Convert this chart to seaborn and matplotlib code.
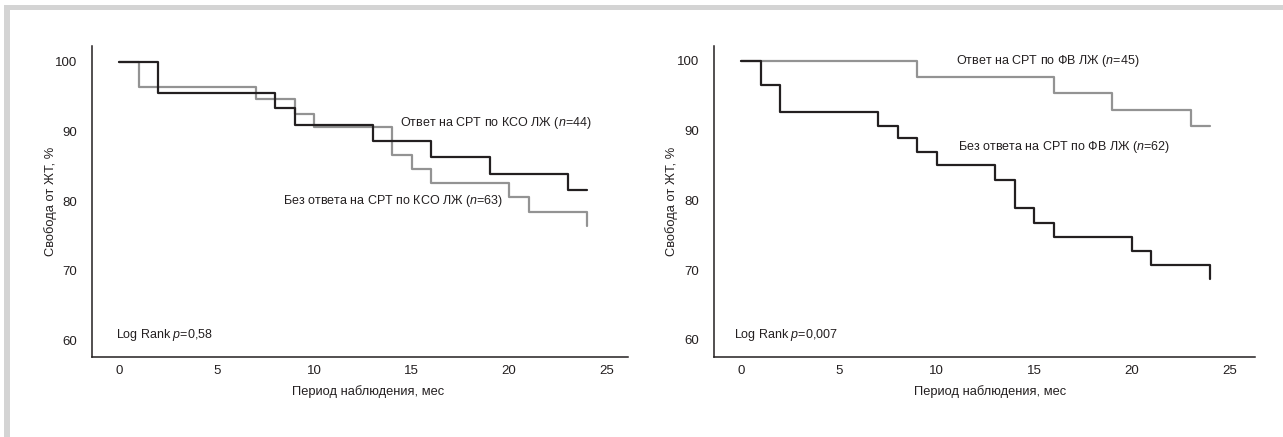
import seaborn as sns
import matplotlib.pyplot as plt
from matplotlib.patches import Rectangle
import pandas as pd

# left panel: response by LV end-systolic volume (КСО)
ksv_resp_t = [0, 2, 8, 9, 13, 16, 19, 23, 24]
ksv_resp_s = [100, 95.5, 93.3, 90.9, 88.6, 86.3, 83.9, 81.6, 81.6]
ksv_non_t = [0, 1, 7, 9, 10, 14, 15, 16, 20, 21, 24, 24]
ksv_non_s = [100, 96.4, 94.6, 92.5, 90.7, 86.6, 84.6, 82.65, 80.6, 78.5, 78.5, 76.5]

# right panel: response by LV ejection fraction (ФВ)
ef_resp_t = [0, 9, 16, 19, 23, 24]
ef_resp_s = [100, 97.7, 95.4, 93.0, 90.7, 90.7]
ef_non_t = [0, 1, 2, 7, 8, 9, 10, 13, 14, 15, 16, 20, 21, 24, 24]
ef_non_s = [100, 96.5, 92.7, 90.7, 88.9, 87.0, 85.1, 83.0, 78.9, 76.8, 74.8, 72.8, 70.75, 70.75, 68.75]

x_ticks = [0, 5, 10, 15, 20, 25]
y_ticks = [60, 70, 80, 90, 100]

BLACK = '#231f20'
GRAY = '#939393'
FONT = ['Liberation Sans', 'DejaVu Sans']

sns.set_style("white")
plt.rcParams['font.family'] = FONT
plt.rcParams['mathtext.fontset'] = 'custom'
plt.rcParams['mathtext.rm'] = 'Liberation Sans'
plt.rcParams['mathtext.it'] = 'Liberation Sans:italic'
FS_TICK = 9.5
FS_LAB = 9.3
FS_TXT = 9.0

fig = plt.figure(figsize=(12.83, 4.37), dpi=100)

# light gray frame (top and left bands)
fig.add_artist(Rectangle((4 / 1283, (437 - 10) / 437), 1, 5 / 437,
                         transform=fig.transFigure, color='#d4d4d4', lw=0))
fig.add_artist(Rectangle((4 / 1283, 0), 6 / 1283, (437 - 5) / 437,
                         transform=fig.transFigure, color='#d4d4d4', lw=0))

ax1 = fig.add_axes([92 / 1283, 80 / 437, 536 / 1283, 311 / 437])
ax2 = fig.add_axes([714 / 1283, 80 / 437, 541 / 1283, 311 / 437])


def km(ax, t, s, color):
    df = pd.DataFrame({'t': t, 's': s})
    sns.lineplot(data=df, x='t', y='s', ax=ax, color=color, lw=1.6,
                 drawstyle='steps-post', estimator=None, sort=False)


km(ax1, ksv_non_t, ksv_non_s, GRAY)
km(ax1, ksv_resp_t, ksv_resp_s, BLACK)
km(ax2, ef_resp_t, ef_resp_s, GRAY)
km(ax2, ef_non_t, ef_non_s, BLACK)

for ax, xlim, ylim in [(ax1, (-1.4, 26.1), (57.66, 102.25)),
                       (ax2, (-1.4, 26.3), (57.56, 102.15))]:
    ax.set_xlim(*xlim)
    ax.set_ylim(*ylim)
    ax.set_xticks(x_ticks)
    ax.set_yticks(y_ticks)
    ax.tick_params(axis='both', length=0, labelsize=FS_TICK, colors=BLACK)
    ax.tick_params(axis='y', pad=11)
    ax.tick_params(axis='x', pad=6)
    sns.despine(ax=ax)
    for sp in ['left', 'bottom']:
        ax.spines[sp].set_color(BLACK)
        ax.spines[sp].set_linewidth(1.1)
    ax.set_xlabel('Период наблюдения, мес', fontsize=FS_LAB, color=BLACK)
    ax.set_ylabel('Свобода от ЖТ, %', fontsize=FS_LAB, color=BLACK)
    ax.yaxis.set_label_coords(-0.066, 0.5)

ax1.xaxis.set_label_coords(0.515, -0.09)
ax2.xaxis.set_label_coords(0.511, -0.09)

ax1.text(14.4, 91.2, 'Ответ на СРТ по КСО ЛЖ ($n$=44)', fontsize=FS_TXT, color=BLACK, va='center')
ax1.text(8.4, 80.0, 'Без ответа на СРТ по КСО ЛЖ ($n$=63)', fontsize=FS_TXT, color=BLACK, va='center')
ax1.text(-0.17, 60.8, 'Log Rank $p$=0,58', fontsize=FS_TXT, color=BLACK, va='center')

ax2.text(11.0, 100.0, 'Ответ на СРТ по ФВ ЛЖ ($n$=45)', fontsize=FS_TXT, color=BLACK, va='center')
ax2.text(11.1, 87.7, 'Без ответа на СРТ по ФВ ЛЖ ($n$=62)', fontsize=FS_TXT, color=BLACK, va='center')
ax2.text(-0.36, 60.7, 'Log Rank $p$=0,007', fontsize=FS_TXT, color=BLACK, va='center')

fig.savefig('out.png', dpi=100)
